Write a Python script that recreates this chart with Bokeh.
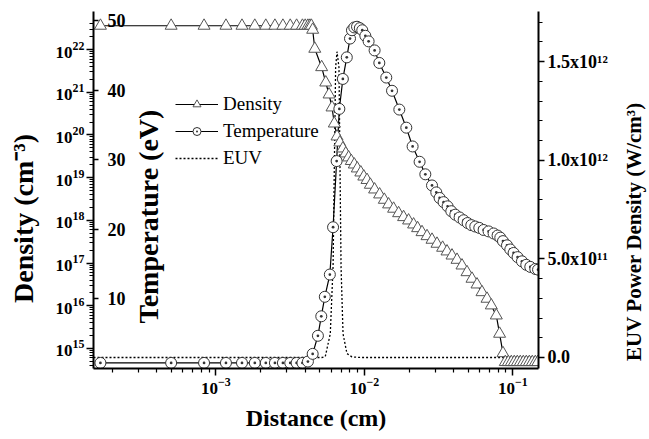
import math
from bokeh.plotting import figure
from bokeh.models import (Range1d, LinearAxis, LinearScale, FixedTicker, Legend, LegendItem, Label)
from bokeh.embed import file_html
from bokeh.resources import INLINE

# ---------------- data ----------------
dens_x = [1.67e-4, 5.0e-4, 8.33e-4, 1.17e-3, 1.50e-3, 1.83e-3, 2.17e-3, 2.50e-3,
          2.83e-3, 3.17e-3, 3.50e-3, 3.83e-3, 4.00e-3, 4.17e-3, 4.30e-3, 4.40e-3,
          4.49e-3, 4.64e-3, 5.16e-3, 5.50e-3, 5.79e-3, 6.06e-3, 6.28e-3, 6.55e-3,
          6.84e-3, 7.17e-3, 7.50e-3, 7.84e-3, 8.17e-3, 8.56e-3, 8.97e-3, 9.47e-3,
          9.92e-3, 1.043e-2, 1.098e-2, 1.173e-2, 1.268e-2, 1.364e-2, 1.457e-2, 1.575e-2,
          1.702e-2, 1.839e-2, 1.987e-2, 2.148e-2, 2.285e-2, 2.447e-2, 2.644e-2, 2.857e-2,
          3.087e-2, 3.368e-2, 3.606e-2, 3.896e-2, 4.210e-2, 4.549e-2, 4.916e-2, 5.312e-2,
          5.741e-2, 6.203e-2, 6.704e-2, 7.166e-2, 7.744e-2, 8.151e-2, 8.590e-2, 8.90e-2,
          9.33e-2, 9.77e-2, 1.023e-1, 1.072e-1, 1.123e-1, 1.177e-1, 1.233e-1, 1.292e-1,
          1.353e-1, 1.418e-1, 1.474e-1]
dens_n = [3.6e22, 3.6e22, 3.6e22, 3.6e22, 3.6e22, 3.6e22, 3.6e22, 3.6e22,
          3.6e22, 3.6e22, 3.6e22, 3.6e22, 3.6e22, 3.6e22, 3.6e22, 3.6e22,
          2.9e22, 1.04e22, 3.86e21, 1.69e21, 8.85e20, 4.40e20, 1.85e20, 9.2e19,
          6.65e19, 4.82e19, 3.68e19, 2.97e19, 2.45e19, 2.03e19, 1.64e19, 1.32e19,
          1.06e19, 8.81e18, 6.81e18, 5.28e18, 4.04e18, 3.03e18, 2.36e18, 1.87e18,
          1.47e18, 1.19e18, 9.93e17, 8.00e17, 6.56e17, 5.29e17, 4.26e17, 3.51e17,
          2.83e17, 2.28e17, 1.87e17, 1.50e17, 1.19e17, 8.77e16, 6.11e16, 4.29e16,
          3.15e16, 2.08e16, 1.46e16, 1.02e16, 5.93e15, 2.21e15, 7.76e14, 4.8e14,
          4.8e14, 4.8e14, 4.8e14, 4.8e14, 4.8e14, 4.8e14, 4.8e14, 4.8e14,
          4.8e14, 4.8e14, 4.8e14]

temp_x = [1.67e-4, 5.0e-4, 8.33e-4, 1.17e-3, 1.50e-3, 1.83e-3, 2.17e-3, 2.50e-3,
          2.83e-3, 3.17e-3, 3.50e-3, 3.83e-3, 4.17e-3, 4.49e-3, 4.87e-3, 5.13e-3,
          5.42e-3, 5.86e-3, 6.16e-3, 6.51e-3, 6.79e-3, 7.17e-3, 7.62e-3, 8.01e-3,
          8.26e-3, 8.56e-3, 8.93e-3, 9.33e-3, 9.69e-3, 1.016e-2, 1.069e-2, 1.173e-2,
          1.262e-2, 1.406e-2, 1.537e-2, 1.721e-2, 1.918e-2, 2.115e-2, 2.357e-2, 2.576e-2,
          2.857e-2, 3.054e-2, 3.214e-2, 3.420e-2, 3.638e-2, 3.853e-2, 4.100e-2, 4.384e-2,
          4.665e-2, 4.962e-2, 5.254e-2, 5.590e-2, 5.948e-2, 6.360e-2, 6.871e-2, 7.426e-2,
          7.900e-2, 8.238e-2, 8.590e-2, 9.141e-2, 9.621e-2, 1.0125e-1, 1.077e-1, 1.153e-1,
          1.233e-1, 1.312e-1, 1.418e-1, 1.48e-1]
temp_T = [0.8, 0.8, 0.8, 0.8, 0.8, 0.8, 0.8, 0.8,
          0.8, 0.8, 0.8, 0.8, 1.0, 2.1, 4.7, 7.5,
          10.3, 13.5, 20.3, 29.8, 37.3, 41.6, 44.7, 47.4,
          48.6, 49.0, 49.1, 48.9, 48.6, 47.8, 47.0, 45.7,
          43.9, 41.8, 39.9, 37.2, 34.6, 31.9, 29.7, 27.9,
          26.3, 25.3, 24.5, 23.9, 23.3, 22.6, 22.1, 21.7,
          21.3, 20.9, 20.6, 20.4, 20.2, 19.9, 19.7, 19.4,
          19.1, 18.8, 18.3, 17.7, 17.1, 16.6, 16.0, 15.4,
          14.9, 14.6, 14.3, 14.2]

euv_x = [1.5e-4, 5.21e-3, 5.46e-3, 5.90e-3, 6.16e-3, 6.28e-3, 6.41e-3, 6.55e-3,
         6.75e-3, 6.86e-3, 6.97e-3, 7.19e-3, 7.64e-3, 8.26e-3, 9.40e-3, 1.49e-1]
euv_p = [0.0, 0.0, 0.005e12, 0.12e12, 0.46e12, 0.96e12, 1.47e12, 1.55e12,
         1.47e12, 0.96e12, 0.46e12, 0.12e12, 0.02e12, 0.003e12, 0.0, 0.0]

dens_ticks = [1e15, 1e16, 1e17, 1e18, 1e19, 1e20, 1e21, 1e22]
temp_ticks = [10, 20, 30, 40, 50]
euv_ticks = [0, 500000000000, 1000000000000, 1500000000000]
euv_labels = ["0.0", "5.0x10\u00b9\u00b9", "1.0x10\u00b9\u00b2", "1.5x10\u00b9\u00b2"]
x_ticks = [1e-3, 1e-2, 1e-1]

x_minor = [m * 10.0 ** e for e in (-4, -3, -2, -1) for m in range(2, 10)]
dens_minor = [m * 10.0 ** e for e in range(14, 23) for m in range(2, 10) if m * 10.0 ** e < 4.8e22]
euv_minor = [k * 1e11 for k in range(0, 18)]

FONT = "Liberation Serif"

p = figure(frame_width=445, frame_height=357,
           min_border_left=93, min_border_right=110, min_border_top=11, min_border_bottom=70,
           x_axis_type="log", y_axis_type="log",
           x_range=Range1d(1.5e-4, 0.149), y_range=Range1d(3.4e14, 7.77e22),
           output_backend="svg", toolbar_location=None)
p.extra_y_ranges = {"temp": Range1d(0, 51.29), "euv": Range1d(-0.0558e12, 1.7537e12)}
p.extra_y_scales = {"temp": LinearScale(), "euv": LinearScale()}
p.outline_line_color = None
p.xgrid.visible = False
p.ygrid.visible = False
p.background_fill_color = "white"
p.border_fill_color = "white"


def style_axis(ax, tick_font="17px"):
    ax.axis_line_width = 2
    ax.axis_line_color = "black"
    ax.major_tick_line_width = 1.5
    ax.minor_tick_line_width = 1.2
    ax.major_tick_line_color = "black"
    ax.minor_tick_line_color = "black"
    ax.major_label_text_font = FONT
    ax.major_label_text_font_style = "bold"
    ax.major_label_text_font_size = tick_font
    ax.major_label_text_color = "black"
    ax.axis_label_text_font = FONT
    ax.axis_label_text_font_style = "bold"
    ax.axis_label_text_color = "black"


# x axis
xa = p.xaxis[0]
style_axis(xa)
xa.ticker = FixedTicker(ticks=x_ticks, minor_ticks=x_minor)
xa.major_tick_out = 7
xa.major_tick_in = 0
xa.minor_tick_out = 4
xa.minor_tick_in = 0
xa.major_label_standoff = 2
xa.axis_label = "Distance (cm)"
xa.axis_label_text_font_size = "24px"
xa.axis_label_standoff = 8

# density axis (left)
ya = p.yaxis[0]
style_axis(ya)
ya.ticker = FixedTicker(ticks=dens_ticks, minor_ticks=dens_minor)
ya.major_tick_out = 7
ya.major_tick_in = 0
ya.minor_tick_out = 4
ya.minor_tick_in = 0
ya.major_label_standoff = 2

# EUV axis (right)
ea = LinearAxis(y_range_name="euv",
                ticker=FixedTicker(ticks=euv_ticks, minor_ticks=euv_minor),
                major_label_overrides=dict(zip(euv_ticks, euv_labels)))
style_axis(ea, "18px")
ea.major_tick_out = 6
ea.major_tick_in = 0
ea.minor_tick_out = 4
ea.minor_tick_in = 0
ea.major_label_standoff = 3
p.add_layout(ea, "right")

# Temperature axis drawn on the left frame edge, labels inside
ta = LinearAxis(y_range_name="temp", fixed_location=1.5e-4,
                ticker=FixedTicker(ticks=temp_ticks, minor_ticks=[]))
style_axis(ta, "18px")
ta.axis_line_color = None
ta.major_tick_out = 5
ta.major_tick_in = 0
ta.minor_tick_out = 0
ta.minor_tick_in = 0
ta.major_label_standoff = 9
p.add_layout(ta, "right")

# ---------------- glyphs ----------------
euv_line = p.line(euv_x, euv_p, y_range_name="euv", line_color="black",
                  line_width=1.3, line_dash="2 2")
d_line = p.line(dens_x, dens_n, line_color="black", line_width=1.2)
t_line = p.line(temp_x, temp_T, y_range_name="temp", line_color="black", line_width=1.2)
d_pts = p.scatter(dens_x, dens_n, marker="triangle", size=12, fill_color="white",
                  line_color="#555555", line_width=1)
t_pts = p.scatter(temp_x, temp_T, y_range_name="temp", marker="circle_dot", size=11,
                  fill_color="white", line_color="#333333", line_width=1)

# ---------------- vertical axis titles (reading bottom-to-top) ----------------
def vtitle(text, x, y, size, side=None):
    lab = Label(text=text, x=x, y=y, x_units="screen", y_units="screen",
                angle=math.pi / 2, text_align="center", text_baseline="middle",
                text_font=FONT, text_font_style="bold", text_font_size=size,
                text_color="black")
    if side is None:
        p.add_layout(lab)
    else:
        p.add_layout(lab, side)

vtitle("Density (cm\u207b\u00b3)", 2, 150, "28px", "left")
vtitle("Temperature (eV)", 55, 152, "28px")
vtitle("EUV Power Density (W/cm\u00b3)", 23, 137, "21px", "right")

legend = Legend(items=[LegendItem(label="Density", renderers=[d_line, d_pts]),
                       LegendItem(label="Temperature", renderers=[t_line, t_pts]),
                       LegendItem(label="EUV", renderers=[euv_line])],
                location=(82, 199))
legend.label_text_font = FONT
legend.label_text_font_size = "19px"
legend.label_text_color = "black"
legend.glyph_width = 43
legend.glyph_height = 20
legend.label_height = 20
legend.spacing = 5
legend.padding = 0
legend.margin = 0
legend.label_standoff = 5
legend.border_line_color = None
legend.background_fill_alpha = 0
p.add_layout(legend)

open("out.html", "w").write(file_html(p, INLINE))
